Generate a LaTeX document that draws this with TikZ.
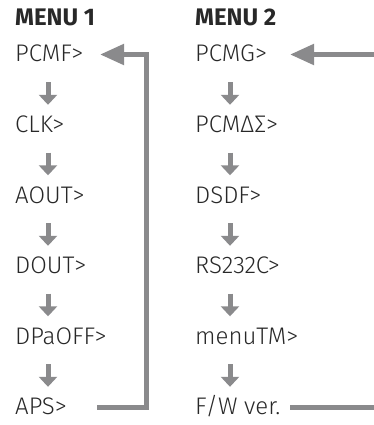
\documentclass[tikz,border=0pt]{standalone}
\usepackage{fontspec}
\setmainfont{Fira Sans Light}[BoldFont={Fira Sans Bold}]
\usetikzlibrary{arrows.meta}
\definecolor{arrowgray}{RGB}{138,138,140}
\definecolor{textgray}{RGB}{40,40,40}
\tikzset{
  item/.style={anchor=base west, inner sep=0pt, text height=15pt, text depth=0pt,
    text=textgray, font=\fontsize{24}{30}\selectfont},
  head/.style={item, font=\fontsize{24}{30}\selectfont\bfseries},
  downarr/.style={arrowgray, line width=5pt, -{Triangle[width=18pt,length=10pt]},
    shorten <=20pt, shorten >=12.5pt},
  looparr/.style={arrowgray, line width=5pt, -{Triangle[width=20pt,length=24pt]}},
}
\begin{document}
\begin{tikzpicture}[x=1pt,y=-1pt]
    \clip (0,0) rectangle (374,425);
    % headers
    \node[head] (m1) at (15,26) {MENU 1};
    \node[head] (m2) at (195,26) {MENU 2};
    % menu 1
    \node[item] (pcmf) at (15,62) {PCMF>};
    \node[item] (clk) at (15,132.5) {CLK>};
    \node[item] (aout) at (15,203) {AOUT>};
    \node[item] (dout) at (15,273.5) {DOUT>};
    \node[item] (dpaoff) at (15,344) {DPaOFF>};
    \node[item] (aps) at (15,414.5) {APS>};
    % menu 2
    \node[item] (pcmg) at (195,62) {PCMG>};
    \node[item] (pcmds) at (195,132.5) {PCMΔΣ>};
    \node[item] (dsdf) at (195,203) {DSDF>};
    \node[item] (rs) at (195,273.5) {RS232C>};
    \node[item] (menutm) at (195,344) {menuTM>};
    \node[item] (fw) at (195,414.5) {F/W ver.};
    % down arrows
    \draw[downarr] ([xshift=33pt]pcmf.south west) -- ([xshift=33pt]clk.north west);
    \draw[downarr] ([xshift=33pt]clk.south west) -- ([xshift=33pt]aout.north west);
    \draw[downarr] ([xshift=33pt]aout.south west) -- ([xshift=33pt]dout.north west);
    \draw[downarr] ([xshift=33pt]dout.south west) -- ([xshift=33pt]dpaoff.north west);
    \draw[downarr] ([xshift=33pt]dpaoff.south west) -- ([xshift=33pt]aps.north west);
    \draw[downarr] ([xshift=35pt]pcmg.south west) -- ([xshift=35pt]pcmds.north west);
    \draw[downarr] ([xshift=35pt]pcmds.south west) -- ([xshift=35pt]dsdf.north west);
    \draw[downarr] ([xshift=35pt]dsdf.south west) -- ([xshift=35pt]rs.north west);
    \draw[downarr] ([xshift=35pt]rs.south west) -- ([xshift=35pt]menutm.north west);
    \draw[downarr] ([xshift=35pt]menutm.south west) -- ([xshift=35pt]fw.north west);
    % loops back to the top
    \coordinate (gap1) at (97,0);
    \coordinate (rail1) at (146,0);
    \coordinate (tip1) at (100,0);
    \coordinate (gap2) at (290,0);
    \coordinate (rail2) at (390,0);
    \coordinate (tip2) at (290,0);
    \draw[looparr] (aps -| gap1) -| (rail1 |- pcmf) -- (pcmf -| tip1);
    \draw[looparr] (fw -| gap2) -| (rail2 |- pcmg) -- (pcmg -| tip2);
\end{tikzpicture}
\end{document}
